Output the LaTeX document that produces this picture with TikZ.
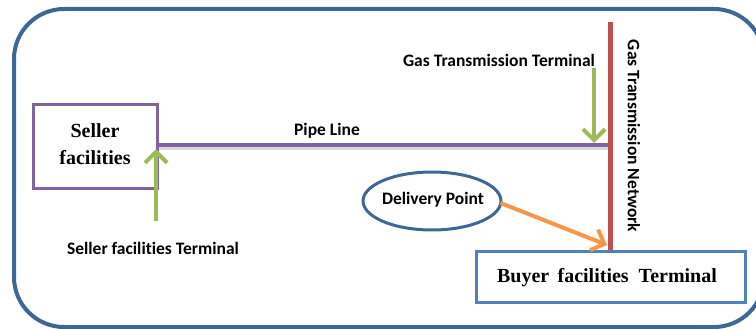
\documentclass[tikz,border=0pt]{standalone}
\usepackage{fontspec}
\setmainfont{Liberation Serif}
\newfontfamily\labelfont[Ligatures=NoCommon]{Carlito}
\usetikzlibrary{arrows.meta,shapes.geometric}

\definecolor{frameblue}{HTML}{3D6796}
\definecolor{pipepurple}{HTML}{8064A2}
\definecolor{netred}{HTML}{C0504D}
\definecolor{termgreen}{HTML}{9BBB59}
\definecolor{flowor}{HTML}{F79646}
\definecolor{buyerblue}{HTML}{4F81BD}

\tikzset{
  facility/.style={draw,line width=3pt},
  factext/.style={font=\fontsize{20}{24}\selectfont\bfseries,align=center,inner sep=0pt},
  tag/.style={font=\labelfont\fontsize{17.5}{21}\selectfont\bfseries,inner sep=0pt},
  feed/.style={line width=4pt,-{Straight Barb[length=11pt,width=22pt]}}
}

\begin{document}
\begin{tikzpicture}[x=1pt,y=-1pt]
    \useasboundingbox (0,0) rectangle (756,329);
    % --- outer frame ---
    \begin{scope}
      \clip (0,0) rectangle (756,329);
      \draw[frameblue,line width=4pt,rounded corners=50pt] (14,9) rectangle (764,327);
    \end{scope}
    % --- facilities ---
    \node[facility,pipepurple,minimum width=124pt,minimum height=83pt] (seller) at (95,146.5) {};
    \node[factext] (sellertxt) at (95,144) {Seller\\[3pt]facilities};
    \node[facility,buyerblue,minimum width=269pt,minimum height=51pt] (buyer) at (610.5,276.5) {};
    \node[factext] (buyertxt) at (607,278) {Buyer\ \,facilities\ \ Terminal};
    \node[draw=frameblue,line width=3pt,ellipse,minimum width=138pt,minimum height=58pt] (dp) at (432,201) {};
    \node[tag] (dptxt) at (433,200) {Delivery Point};
    % --- pipe line and network ---
    \coordinate (netTop) at (610,22);
    \coordinate (netBot) at (610,250);
    \coordinate (pipeEnd) at (608,145);
    \draw[black!15,line width=3pt] ([yshift=-3pt]seller.east |- pipeEnd) -- ([yshift=-3pt]pipeEnd);
    \draw[pipepurple,line width=4pt] (seller.east |- pipeEnd) -- (pipeEnd);
    \draw[netred,line width=5pt] (netTop) -- (netBot);
    \node[tag] (pipe) at (327,131) {Pipe Line};
    \node[tag,rotate=-90] (net) at (634,136) {Gas Transmission Network};
    % --- terminals ---
    \node[tag] (gtt) at (499,60) {Gas Transmission Terminal};
    \node[tag] (stt) at (153,248) {Seller facilities Terminal};
    \coordinate (gtTail) at (594,68);
    \coordinate (gtTip) at (594,143);
    \coordinate (stTail) at (156,221);
    \coordinate (stTip) at (156,149);
    \draw[feed,termgreen] (gtTail) -- (gtTip);
    \draw[feed,termgreen] (stTail) -- (stTip);
    \coordinate (dpTip) at (607,245);
    \draw[feed,flowor] (dp.east) ++(-2,2) -- (dpTip);
\end{tikzpicture}
\end{document}
